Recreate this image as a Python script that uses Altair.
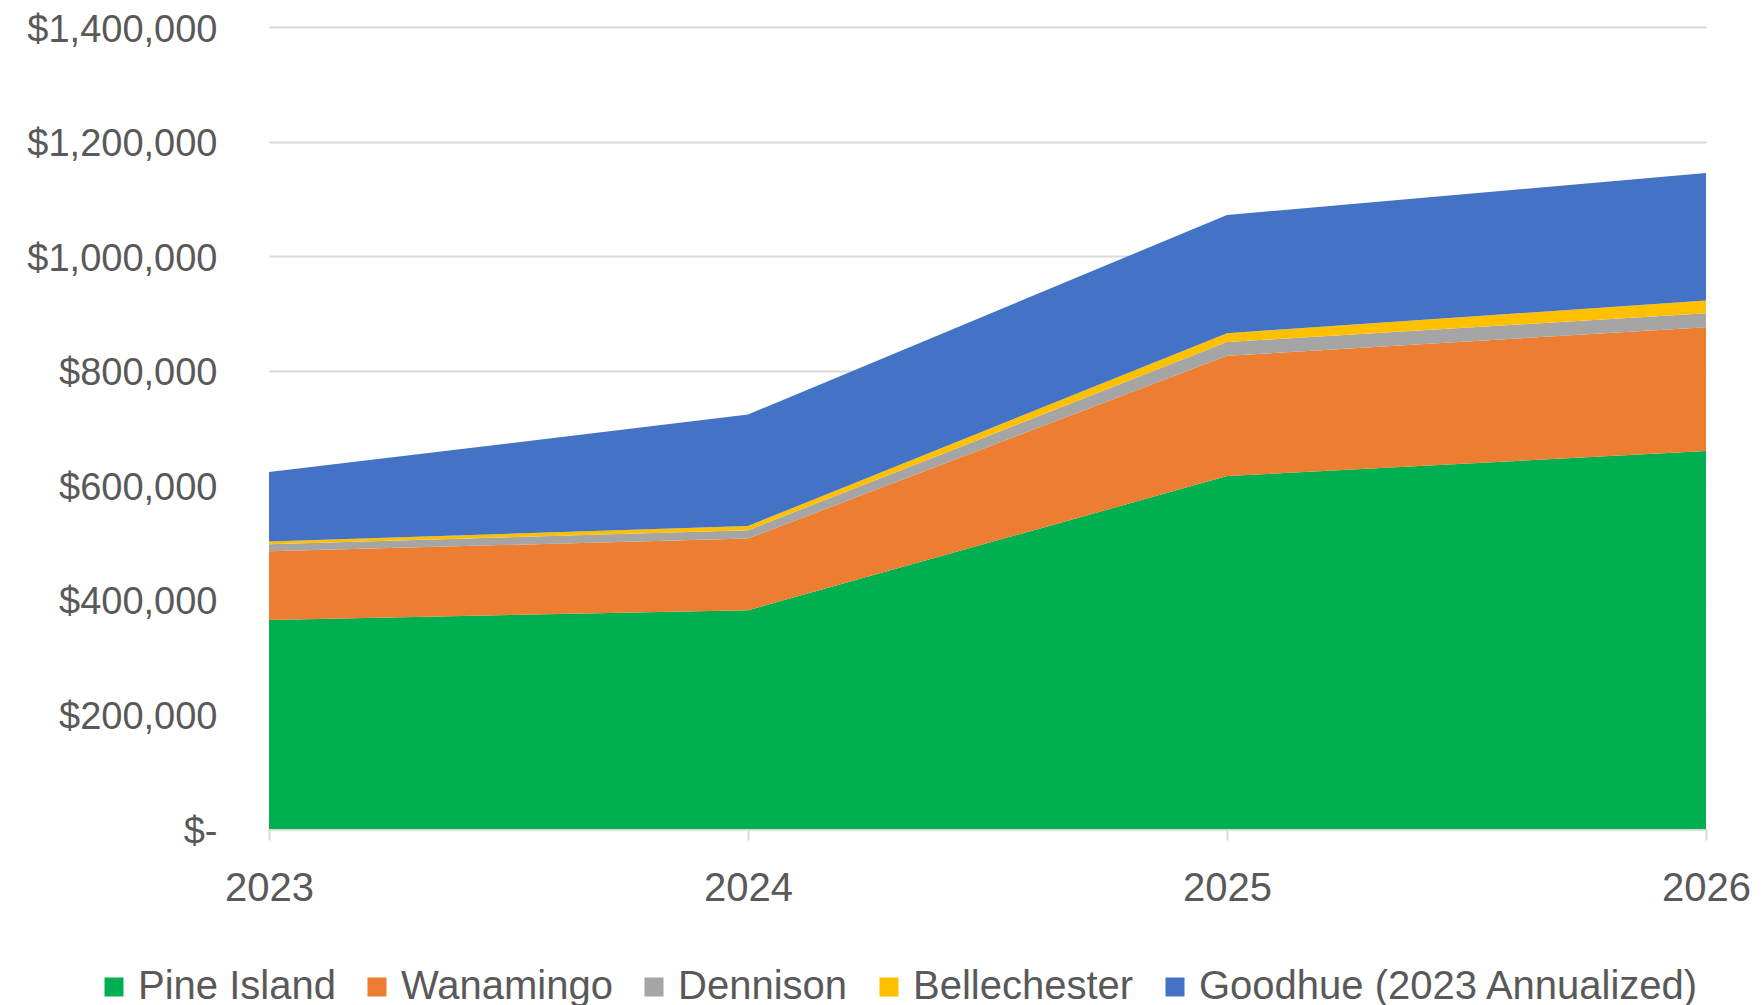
import altair as alt
import pandas as pd

years = [2023, 2024, 2025, 2026]
series = ["Pine Island", "Wanamingo", "Dennison", "Bellechester", "Goodhue (2023 Annualized)"]
pine_island = [365000, 382000, 616000, 660000]
wanamingo = [120000, 125000, 210000, 216000]
dennison = [12000, 14500, 24000, 24500]
bellechester = [5000, 7500, 15500, 22000]
goodhue = [121000, 194500, 206500, 222500]
colors = ["#00B050", "#ED7D31", "#A5A5A5", "#FFC000", "#4472C4"]
y_ticks = [0, 200000, 400000, 600000, 800000, 1000000, 1200000, 1400000]

values = [pine_island, wanamingo, dennison, bellechester, goodhue]
rows = []
for i, (name, vals) in enumerate(zip(series, values)):
    for yr, v in zip(years, vals):
        rows.append({"year": yr, "series": name, "value": v, "idx": i})
df = pd.DataFrame(rows)

FONT = "Liberation Sans"
TXT = "#595959"
GRID = "#D9D9D9"

chart = alt.Chart(df).mark_area(opacity=1, interpolate="linear").encode(
    x=alt.X(
        "year:Q",
        scale=alt.Scale(domain=[2023, 2026], nice=False, zero=False),
        axis=alt.Axis(
            values=years, format="d", title=None, grid=False,
            domainColor=GRID, domainWidth=2,
            tickColor=GRID, tickSize=11, tickWidth=2,
            labelFontSize=40, labelColor=TXT, labelFont=FONT,
            labelPadding=28, labelFlush=False,
        ),
    ),
    y=alt.Y(
        "value:Q",
        stack="zero",
        scale=alt.Scale(domain=[0, 1400000], nice=False),
        axis=alt.Axis(
            values=y_ticks, title=None, ticks=False, domain=False,
            gridColor=GRID, gridWidth=2,
            labelExpr="datum.value == 0 ? '$-' : '$' + format(datum.value, ',')",
            labelFontSize=38, labelColor=TXT, labelFont=FONT,
            labelPadding=52, labelLimit=0, labelOffset=3, labelFlush=False,
        ),
    ),
    color=alt.Color(
        "series:N",
        scale=alt.Scale(domain=series, range=colors),
        legend=alt.Legend(
            title=None, orient="none", legendX=-175, legendY=940,
            direction="horizontal", symbolType="square", symbolSize=361,
            symbolStrokeWidth=0, labelFontSize=40, labelFont=FONT,
            labelColor=TXT, labelOffset=4, columnPadding=21, labelLimit=0,
        ),
    ),
    order=alt.Order("idx:Q"),
).properties(
    width=1437,
    height=802,
    background="white",
    autosize=alt.AutoSizeParams(type="none"),
    padding={"left": 261, "top": 19, "right": 47, "bottom": 176},
).configure_view(stroke=None, strokeWidth=0)

chart.save("out.html", embed_options={"renderer": "svg", "actions": False})
